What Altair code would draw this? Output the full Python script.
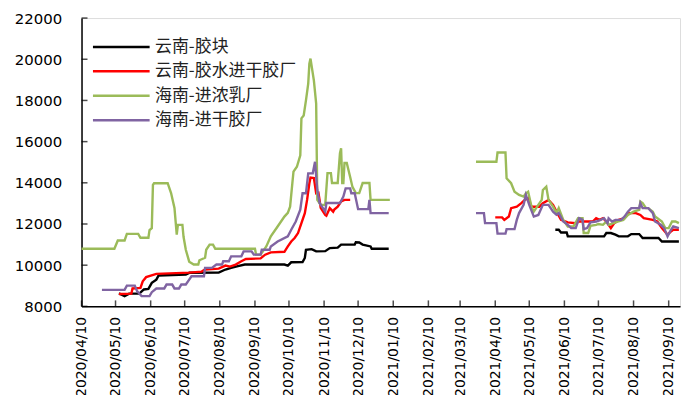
import altair as alt
import pandas as pd

# Series names and colours (legend order)
SERIES = ["云南-胶块", "云南-胶水进干胶厂", "海南-进浓乳厂", "海南-进干胶厂"]
COLORS = ["#000000", "#FF0000", "#9BBB59", "#8064A2"]

# Axis ticks
TICK_DATES = ["2020/04/10", "2020/05/10", "2020/06/10", "2020/07/10", "2020/08/10",
              "2020/09/10", "2020/10/10", "2020/11/10", "2020/12/10", "2021/01/10",
              "2021/02/10", "2021/03/10", "2021/04/10", "2021/05/10", "2021/06/10",
              "2021/07/10", "2021/08/10", "2021/09/10"]
Y_TICKS = [8000, 10000, 12000, 14000, 16000, 18000, 20000, 22000]
X_START = (2020, 4, 10)
X_END = (2021, 9, 20)

# 云南-胶块
yn_block_dates = [
    "2020/05/13", "2020/05/18", "2020/05/22", "2020/05/31", "2020/06/04", "2020/06/08",
    "2020/06/11", "2020/06/15", "2020/06/17", "2020/07/11", "2020/07/14", "2020/08/09",
    "2020/08/15", "2020/08/20", "2020/08/26", "2020/09/01", "2020/10/06", "2020/10/09",
    "2020/10/12", "2020/10/22", "2020/10/24", "2020/10/25", "2020/10/30", "2020/11/03",
    "2020/11/11", "2020/11/15", "2020/11/22", "2020/11/25", "2020/12/07", "2020/12/08",
    "2020/12/11", "2020/12/14", "2020/12/21", "2020/12/22", "2021/01/06",
    "2021/06/02", "2021/06/05", "2021/06/07", "2021/06/12", "2021/06/13", "2021/07/15",
    "2021/07/17", "2021/07/21", "2021/07/25", "2021/07/28", "2021/08/05", "2021/08/08",
    "2021/08/15", "2021/08/18", "2021/09/01", "2021/09/04", "2021/09/19"]
yn_block_prices = [
    8630, 8500, 8620, 8620, 8820, 8850,
    9140, 9300, 9500, 9550, 9630, 9640,
    9790, 9870, 9950, 10030, 10030, 9980,
    10140, 10150, 10350, 10750, 10780, 10670,
    10680, 10830, 10850, 11000, 11000, 11110,
    11100, 11000, 10910, 10800, 10800,
    11720, 11720, 11590, 11590, 11400, 11400,
    11560, 11560, 11480, 11400, 11400, 11510,
    11510, 11320, 11320, 11150, 11150]

# 云南-胶水进干胶厂
yn_latex_dates = [
    "2020/05/13", "2020/05/24", "2020/05/25", "2020/06/01", "2020/06/03", "2020/06/06",
    "2020/06/15", "2020/07/14", "2020/07/25", "2020/07/28", "2020/08/09", "2020/08/15",
    "2020/08/19", "2020/08/24", "2020/08/29", "2020/09/02", "2020/09/15", "2020/09/19",
    "2020/09/24", "2020/10/06", "2020/10/09", "2020/10/12", "2020/10/15", "2020/10/18",
    "2020/10/21", "2020/10/24", "2020/10/26", "2020/10/28", "2020/10/29", "2020/11/01",
    "2020/11/03", "2020/11/05", "2020/11/06", "2020/11/07", "2020/11/11", "2020/11/12",
    "2020/11/15", "2020/11/18", "2020/11/19", "2020/11/22", "2020/11/25", "2020/11/28",
    "2020/12/03",
    "2021/04/10", "2021/04/16", "2021/04/18", "2021/04/22", "2021/04/24", "2021/04/29",
    "2021/05/03", "2021/05/06", "2021/05/09", "2021/05/12", "2021/05/19", "2021/05/22",
    "2021/05/27", "2021/05/31", "2021/06/03", "2021/06/07", "2021/06/13", "2021/06/20",
    "2021/06/23", "2021/07/05", "2021/07/08", "2021/07/11", "2021/07/14", "2021/07/17",
    "2021/07/21", "2021/07/24", "2021/07/28", "2021/08/02", "2021/08/06", "2021/08/12",
    "2021/08/16", "2021/08/19", "2021/08/27", "2021/08/31", "2021/09/04", "2021/09/09",
    "2021/09/12", "2021/09/14", "2021/09/19"]
yn_latex_prices = [
    8600, 8620, 8870, 8900, 9220, 9420,
    9580, 9640, 9690, 9790, 9830, 9980,
    9930, 10030, 10190, 10300, 10330, 10510,
    10620, 10650, 10910, 11150, 11320, 11560,
    12040, 12530, 13170, 13980, 14250, 14230,
    13490, 13520, 13170, 12780, 12440, 12400,
    12770, 12600, 12700, 12840, 13090, 13170,
    13170,
    12320, 12320, 12200, 12360, 12770, 12840,
    13010, 13170, 13250, 12840, 12840, 13010,
    13170, 12930, 12600, 12200, 12080, 12040,
    12120, 12120, 12280, 12200, 12280, 12120,
    11800, 12040, 12200, 12280, 12530, 12530,
    12440, 12280, 12200, 12120, 11800, 11480,
    11640, 11720, 11720]

# 海南-进浓乳厂
hn_conc_dates = [
    "2020/04/10", "2020/05/09", "2020/05/12", "2020/05/18", "2020/05/20", "2020/05/30",
    "2020/06/01", "2020/06/08", "2020/06/09", "2020/06/11", "2020/06/12", "2020/06/13",
    "2020/06/25", "2020/06/28", "2020/07/01", "2020/07/03", "2020/07/04", "2020/07/08",
    "2020/07/09", "2020/07/11", "2020/07/14", "2020/07/18", "2020/07/22", "2020/07/23",
    "2020/07/28", "2020/07/29", "2020/08/01", "2020/08/04", "2020/08/06", "2020/09/10",
    "2020/09/11", "2020/09/15", "2020/09/20", "2020/09/24", "2020/09/30", "2020/10/06",
    "2020/10/09", "2020/10/11", "2020/10/13", "2020/10/14", "2020/10/17", "2020/10/20",
    "2020/10/21", "2020/10/23", "2020/10/25", "2020/10/27", "2020/10/28", "2020/10/29",
    "2020/11/01", "2020/11/03", "2020/11/04", "2020/11/07", "2020/11/11", "2020/11/13",
    "2020/11/16", "2020/11/17", "2020/11/22", "2020/11/24", "2020/11/25", "2020/11/26",
    "2020/11/27", "2020/11/28", "2020/11/30", "2020/12/03", "2020/12/05", "2020/12/08",
    "2020/12/11", "2020/12/14", "2020/12/20", "2020/12/21", "2021/01/07",
    "2021/03/24", "2021/04/11", "2021/04/12", "2021/04/19", "2021/04/20", "2021/04/24",
    "2021/04/27", "2021/05/01", "2021/05/05", "2021/05/07", "2021/05/09", "2021/05/12",
    "2021/05/14", "2021/05/18", "2021/05/21", "2021/05/22", "2021/05/25", "2021/05/27",
    "2021/05/31", "2021/06/03", "2021/06/05", "2021/06/09", "2021/06/13", "2021/06/18",
    "2021/06/22", "2021/06/26", "2021/06/27", "2021/07/01", "2021/07/03", "2021/07/08",
    "2021/07/10", "2021/07/14", "2021/07/17", "2021/07/19", "2021/07/27", "2021/08/01",
    "2021/08/05", "2021/08/10", "2021/08/15", "2021/08/16", "2021/08/18", "2021/08/21",
    "2021/08/23", "2021/08/27", "2021/08/29", "2021/09/04", "2021/09/07", "2021/09/10",
    "2021/09/13", "2021/09/16", "2021/09/19"]
hn_conc_prices = [
    10800, 10800, 11200, 11200, 11520, 11520,
    11330, 11330, 11700, 11800, 13900, 13980,
    13980, 13500, 12780, 11480, 11960, 11960,
    11380, 10750, 10170, 10030, 10030, 10240,
    10360, 10750, 11000, 11000, 10800, 10800,
    10510, 10510, 10910, 11400, 11880, 12360,
    12540, 12840, 13990, 14540, 14780, 15340,
    17130, 17270, 18000, 18820, 19780, 20030,
    18960, 17850, 13170, 12930, 12930, 14470,
    14470, 13990, 13990, 15440, 15680, 13990,
    13990, 14960, 14960, 14280, 13800, 13500,
    13500, 13990, 13990, 13170, 13170,
    15020, 15020, 15470, 15470, 14220, 13980,
    13570, 13410, 13330, 13490, 13570, 12840,
    12600, 12930, 13170, 13650, 13810, 13170,
    12840, 12530, 12770, 12200, 11880, 11880,
    12280, 12280, 11560, 11560, 11910, 11960,
    12000, 11960, 12120, 11960, 12120, 12200,
    12440, 12600, 12690, 13090, 13010, 12770,
    12770, 12600, 12360, 12120, 11800, 11800,
    12120, 12120, 12040]

# 海南-进干胶厂
hn_dry_dates = [
    "2020/04/28", "2020/05/18", "2020/05/20", "2020/05/27", "2020/05/29", "2020/06/02",
    "2020/06/09", "2020/06/11", "2020/06/15", "2020/06/22", "2020/06/24", "2020/06/29",
    "2020/07/01", "2020/07/05", "2020/07/07", "2020/07/11", "2020/07/14", "2020/07/16",
    "2020/07/27", "2020/07/28", "2020/08/03", "2020/08/07", "2020/08/12", "2020/08/13",
    "2020/08/18", "2020/08/20", "2020/08/29", "2020/08/31", "2020/09/07", "2020/09/09",
    "2020/09/15", "2020/09/16", "2020/09/23", "2020/09/24", "2020/09/30", "2020/10/09",
    "2020/10/12", "2020/10/16", "2020/10/20", "2020/10/22", "2020/10/25", "2020/10/27",
    "2020/10/31", "2020/11/02", "2020/11/04", "2020/11/06", "2020/11/11", "2020/11/12",
    "2020/11/24", "2020/11/27", "2020/11/29", "2020/12/03", "2020/12/04", "2020/12/07",
    "2020/12/10", "2020/12/19", "2020/12/20", "2020/12/21", "2021/01/06",
    "2021/03/24", "2021/03/31", "2021/04/01", "2021/04/11", "2021/04/12", "2021/04/19",
    "2021/04/20", "2021/04/27", "2021/04/29", "2021/05/01", "2021/05/05", "2021/05/07",
    "2021/05/10", "2021/05/14", "2021/05/18", "2021/05/22", "2021/05/27", "2021/05/31",
    "2021/06/03", "2021/06/05", "2021/06/09", "2021/06/13", "2021/06/16", "2021/06/20",
    "2021/06/23", "2021/06/26", "2021/06/27", "2021/06/30", "2021/07/03", "2021/07/08",
    "2021/07/12", "2021/07/15", "2021/07/18", "2021/07/19", "2021/07/22", "2021/07/25",
    "2021/07/30", "2021/08/02", "2021/08/05", "2021/08/08", "2021/08/15", "2021/08/16",
    "2021/08/18", "2021/08/23", "2021/08/27", "2021/08/29", "2021/09/03", "2021/09/06",
    "2021/09/09", "2021/09/12", "2021/09/14", "2021/09/19"]
hn_dry_prices = [
    8800, 8800, 9010, 9010, 8740, 8500,
    8500, 8690, 8870, 8870, 9060, 9060,
    8870, 8870, 9060, 9060, 9300, 9460,
    9460, 9870, 9870, 10030, 10030, 10190,
    10190, 10430, 10430, 10670, 10670, 10510,
    10510, 10750, 10750, 10910, 11150, 11400,
    11720, 12120, 12690, 13490, 13490, 14460,
    14460, 15020, 13650, 13020, 12600, 13020,
    13020, 13330, 13730, 13730, 13490, 13490,
    12720, 12720, 13170, 12530, 12530,
    12530, 12530, 12040, 12040, 11530, 11530,
    11750, 11750, 12200, 12530, 12930, 13410,
    12930, 12360, 12440, 12930, 12930, 12600,
    12450, 12530, 12120, 11960, 11800, 11800,
    12280, 12200, 11750, 11800, 12080, 12120,
    12200, 12280, 12040, 12280, 12120, 12200,
    12200, 12360, 12600, 12770, 12770, 13010,
    12770, 12770, 12530, 12120, 11960, 11800,
    11400, 11720, 11880, 11800]


def series_frame(name, dates, prices):
    df = pd.DataFrame({"date": dates, "price": prices})
    df["series"] = name
    # two trading periods per series, drawn as separate paths
    df["part"] = [name + ("-a" if d < "2021/02" else "-b") for d in dates]
    return df


data = pd.concat([
    series_frame(SERIES[0], yn_block_dates, yn_block_prices),
    series_frame(SERIES[1], yn_latex_dates, yn_latex_prices),
    series_frame(SERIES[2], hn_conc_dates, hn_conc_prices),
    series_frame(SERIES[3], hn_dry_dates, hn_dry_prices),
], ignore_index=True)


def dt(ymd):
    y, m, d = [int(v) for v in ymd.split("/")]
    return alt.DateTime(year=y, month=m, date=d)


x_scale = alt.Scale(domain=[alt.DateTime(year=X_START[0], month=X_START[1], date=X_START[2]),
                            alt.DateTime(year=X_END[0], month=X_END[1], date=X_END[2])])
y_scale = alt.Scale(domain=[Y_TICKS[0], Y_TICKS[-1]], nice=False, zero=False)


def x_axis():
    return alt.Axis(values=[dt(t) for t in TICK_DATES], format="%Y/%m/%d", labelAngle=270,
                    ticks=False, grid=False, domainColor="#000000", domainWidth=1.5,
                    labelFont="DejaVu Sans", labelFontSize=14, labelColor="#000000",
                    labelPadding=10, labelOverlap=False, labelBound=False, title=None)


def y_axis():
    return alt.Axis(values=Y_TICKS, format="d", ticks=False, grid=False,
                    domainColor="#000000", domainWidth=1.5,
                    labelFont="DejaVu Sans", labelFontSize=15, labelColor="#000000",
                    labelPadding=20, minExtent=77, maxExtent=77, title=None)


lines = alt.Chart(data).mark_line(strokeWidth=2.4).encode(
    x=alt.X("date:T", scale=x_scale, axis=x_axis()),
    y=alt.Y("price:Q", scale=y_scale, axis=y_axis()),
    color=alt.Color("series:N",
                    scale=alt.Scale(domain=SERIES, range=COLORS),
                    legend=alt.Legend(title=None, orient="none", legendX=10, legendY=17,
                                      symbolType="stroke", symbolSize=3249,
                                      symbolStrokeWidth=2.5, labelFont="Noto Sans CJK SC",
                                      labelFontSize=17, labelColor="#222222",
                                      clipHeight=24, rowPadding=0.6, labelOffset=4,
                                      padding=0)),
    detail="part:N",
)

# inward tick marks along both axes
x_ticks = alt.Chart(pd.DataFrame({"d": TICK_DATES})).mark_tick(
    orient="vertical", size=6, thickness=1.5, color="#000000", yOffset=-3
).encode(
    x=alt.X("d:T", scale=x_scale, axis=x_axis()),
    y=alt.Y(datum=Y_TICKS[0], scale=y_scale, axis=y_axis()),
)
y_ticks = alt.Chart(pd.DataFrame({"v": Y_TICKS})).mark_tick(
    orient="horizontal", size=6, thickness=1.5, color="#000000", xOffset=3
).encode(
    x=alt.X(datum=alt.DateTime(year=X_START[0], month=X_START[1], date=X_START[2]),
            scale=x_scale, axis=x_axis()),
    y=alt.Y("v:Q", scale=y_scale, axis=y_axis()),
)

chart = alt.layer(lines, x_ticks, y_ticks).properties(
    width=602, height=290,
    padding={"left": 5, "top": 10, "right": 0, "bottom": 0},
).configure_view(stroke=None).configure(background="#FFFFFF")

chart.save("out.html", embed_options={"renderer": "svg", "actions": False})
